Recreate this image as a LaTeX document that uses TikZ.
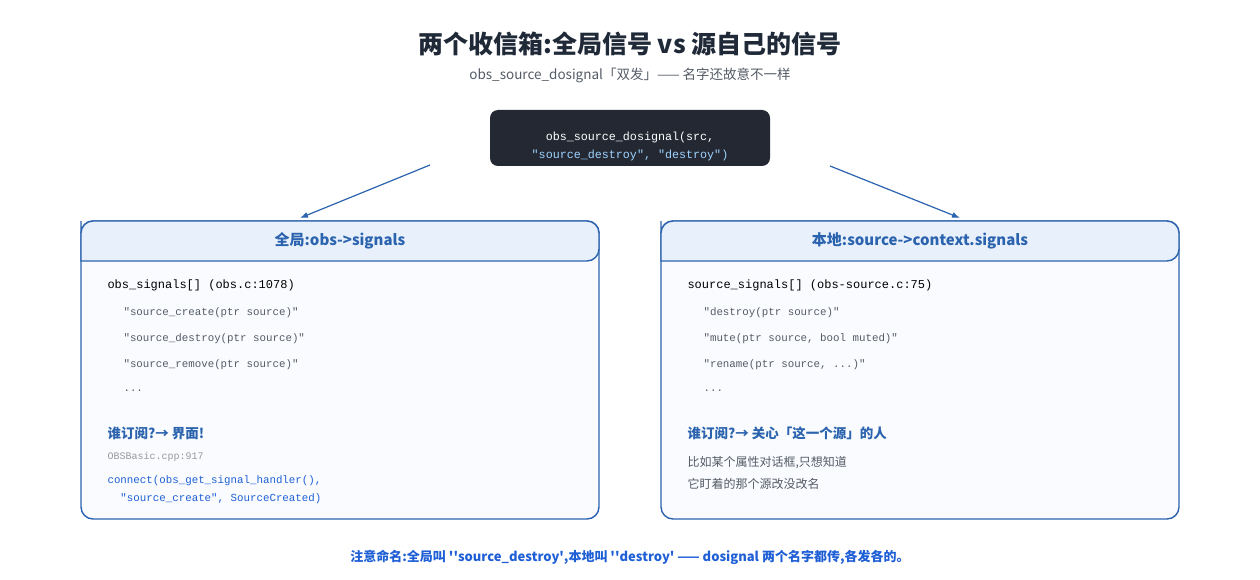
\documentclass[tikz,border=0pt]{standalone}
\usepackage{fontspec}
\setmainfont{Noto Sans CJK SC}
\setmonofont{Liberation Mono}
\usetikzlibrary{arrows.meta}
\definecolor{ink}{HTML}{1F2937}
\definecolor{frame}{HTML}{2B63AE}
\definecolor{headfill}{HTML}{E8F1FB}
\definecolor{bodyfill}{HTML}{F9FBFE}
\definecolor{darkbox}{HTML}{232833}
\definecolor{codeblue}{HTML}{1F5FD6}
\definecolor{lightblue}{HTML}{9FD3FF}
\definecolor{muted}{HTML}{555B66}
\tikzset{
  panel/.style={draw=frame, line width=1.4pt, rounded corners=12pt, fill=bodyfill},
  head/.style={draw=frame, line width=1.4pt, rounded corners=12pt, fill=headfill},
  headtext/.style={font=\fontsize{15}{18}\selectfont\bfseries, text=frame},
  code/.style={anchor=west, font=\ttfamily\fontsize{12}{14}\selectfont, text=black},
  item/.style={anchor=west, font=\ttfamily\fontsize{10.8}{13}\selectfont, text=muted},
  ask/.style={anchor=west, font=\fontsize{13.5}{16}\selectfont\bfseries, text=frame},
  link/.style={-{Latex[length=8pt,width=6pt]}, draw=frame, line width=1.2pt}
}
\begin{document}
\begin{tikzpicture}[x=1pt,y=-1pt]
    \useasboundingbox (0,0) rectangle (1260,580);

    % title
    \node (title) at (630,44) {\fontsize{25}{30}\selectfont\bfseries\color{ink}两个收信箱:全局信号 vs 源自己的信号};
    \node (subtitle) at (630,75) {\fontsize{13.5}{16}\selectfont\color{muted}obs\_source\_dosignal「双发」—— 名字还故意不一样};

    % call
    \fill[darkbox, rounded corners=8pt] (490,110) rectangle (770,166);
    \node (call) at (630,146) [align=center, font=\ttfamily\fontsize{11.7}{18}\selectfont, text=white]
        {obs\_source\_dosignal(src,\\\color{lightblue}"source\_destroy", "destroy")};
    \coordinate (callL) at (430,165);
    \coordinate (callR) at (830,166);

    % global
    \draw[panel] (81,221) rectangle (599,519);
    \draw[head] (81,261) -- (81,233) [rounded corners=12pt] -- (81,221) -- (599,221) -- (599,261) [sharp corners] -- cycle;
    \node (global) at (340,241) [headtext] {全局:obs->signals};
    \coordinate (globalTop) at (300,218);
    \node (g0) at (104,285) [code] {obs\_signals[]  (obs.c:1078)};
    \node (g1) at (120,313) [item] {"source\_create(ptr source)"};
    \node (g2) at (120,339) [item] {"source\_destroy(ptr source)"};
    \node (g3) at (120,365) [item] {"source\_remove(ptr source)"};
    \node (g4) at (120,391) [item] {...};
    \node (gask) at (104,433) [ask] {谁订阅?→ 界面!};
    \node (gref) at (104,457) [item, font=\ttfamily\fontsize{10}{12}\selectfont, text=gray!80] {OBSBasic.cpp:917};
    \node (gc1) at (104,481) [item, text=codeblue] {connect(obs\_get\_signal\_handler(),};
    \node (gc2) at (104,499) [item, text=codeblue] {\ \ "source\_create", SourceCreated)};

    % local
    \draw[panel] (661,221) rectangle (1179,519);
    \draw[head] (661,261) -- (661,233) [rounded corners=12pt] -- (661,221) -- (1179,221) -- (1179,261) [sharp corners] -- cycle;
    \node (local) at (920,241) [headtext] {本地:source->context.signals};
    \coordinate (localTop) at (960,218);
    \node (l0) at (684,285) [code] {source\_signals[]  (obs-source.c:75)};
    \node (l1) at (700,313) [item] {"destroy(ptr source)"};
    \node (l2) at (700,339) [item] {"mute(ptr source, bool muted)"};
    \node (l3) at (700,365) [item] {"rename(ptr source, ...)"};
    \node (l4) at (700,391) [item] {...};
    \node (lask) at (684,433) [ask] {谁订阅?→ 关心「这一个源」的人};
    \node (lnote) at (684,473) [anchor=west, align=left, font=\fontsize{12}{22}\selectfont, text=muted]
        {比如某个属性对话框,只想知道\\它盯着的那个源改没改名};

    \draw[link] (callL) -- (globalTop);
    \draw[link] (callR) -- (localTop);

    % footer
    \node (footer) at (630,557) [font=\fontsize{13}{16}\selectfont\bfseries, text=codeblue]
        {注意命名:全局叫 \textquotesingle\textquotesingle source\_destroy\textquotesingle,本地叫 \textquotesingle\textquotesingle destroy\textquotesingle\ —— dosignal 两个名字都传,各发各的。};
\end{tikzpicture}
\end{document}
